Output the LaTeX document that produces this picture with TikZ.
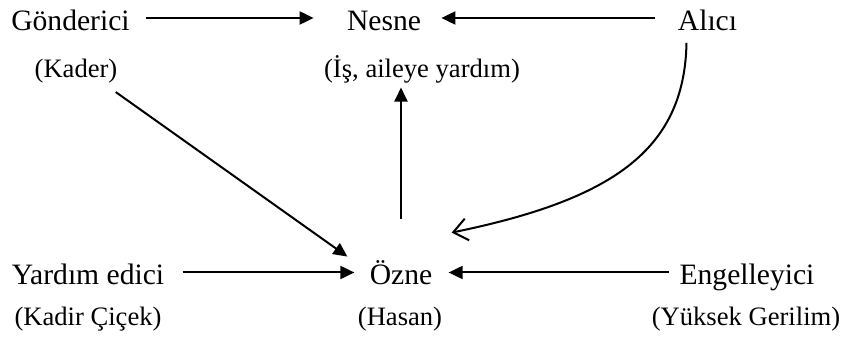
\documentclass[tikz,border=0pt]{standalone}
\usepackage{fontspec}
\setmainfont{Liberation Serif}
\usetikzlibrary{arrows.meta,calc}
\tikzset{>={Triangle[length=7pt,width=6.5pt]}}
\tikzset{
  rol/.style={inner sep=0pt, anchor=base, text height=12.5pt, text depth=0pt},
  kisi/.style={inner sep=0pt, anchor=base, font=\fontsize{13.3}{16}\selectfont},
  ok/.style={->, line width=1pt},
}

\begin{document}
\begin{tikzpicture}[x=0.5pt, y=-0.5pt, font=\fontsize{14.8}{17}\selectfont]
  \useasboundingbox (0,0) rectangle (842,341);
  % top row
  \node[rol] (gon) at (70.5,30.5) {Gönderici};
  \node[rol] (nes) at (384,30.5) {Nesne};
  \node[rol] (ali) at (707.5,30.5) {Alıcı};
  \node[kisi] (kad) at (76,78) {(Kader)};
  \node[kisi] (is) at (422,78) {(İş, aileye yardım)};
  % bottom row
  \node[rol] (yar) at (88,285) {Yardım edici};
  \node[rol] (ozn) at (401,285) {Özne};
  \node[rol] (eng) at (747,285) {Engelleyici};
  \node[kisi] (kc) at (88,326) {(Kadir Çiçek)};
  \node[kisi] (has) at (400,326) {(Hasan)};
  \node[kisi] (yg) at (746,326) {(Yüksek Gerilim)};

  \draw[ok, shorten <=8pt, shorten >=16.5pt] (gon) -- (nes);
  \draw[ok, shorten <=11.5pt, shorten >=10pt] (ali) -- (nes);
  \draw[ok, shorten <=9pt, shorten >=7.5pt] (yar) -- (ozn);
  \draw[ok, shorten <=5pt, shorten >=8pt] (eng) -- (ozn);
  \draw[ok] ([shift={(-1pt,-4pt)}]kad.south east) -- ([shift={(-11pt,1.5pt)}]ozn.north west);
  \draw[ok, shorten <=20.5pt, shorten >=1.7pt] (ozn.north) -- (ozn.north |- is.south);
  \draw[line width=1pt, -{Straight Barb[length=7pt,width=11pt]}]
    ([shift={(-10.5pt,-6pt)}]ali.south) .. controls +(-2,107) and +(161,-33) .. ([shift={(9.5pt,13.5pt)}]ozn.north east);
\end{tikzpicture}
\end{document}
